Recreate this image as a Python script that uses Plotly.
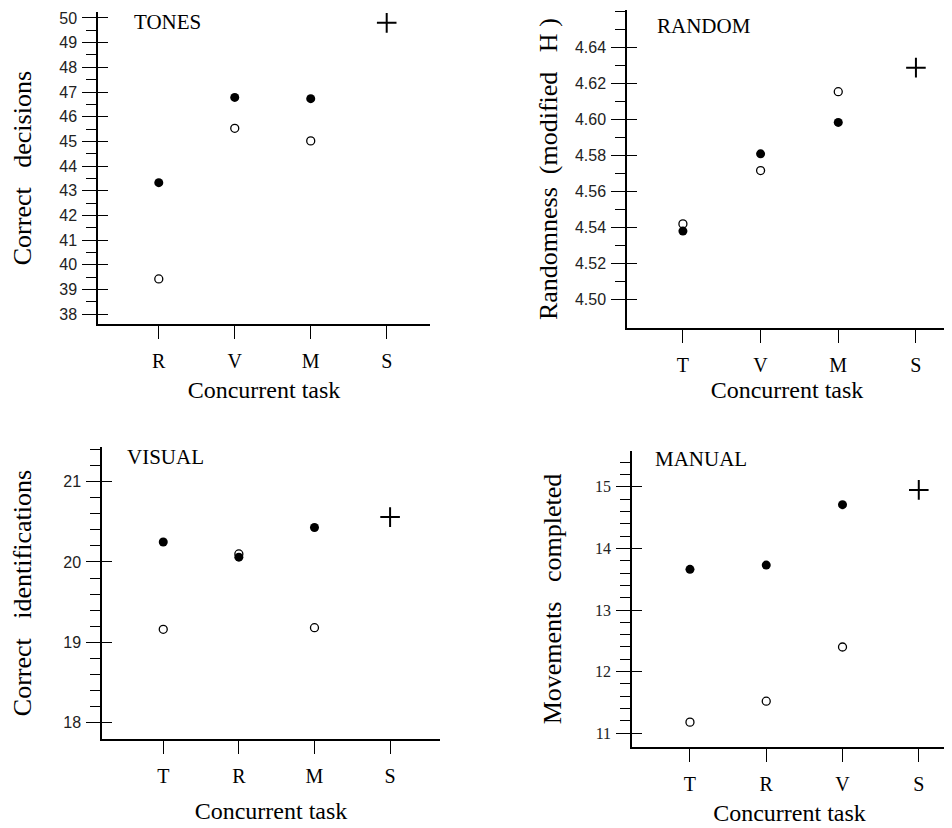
import plotly.graph_objects as go

W, H = 952, 828
OFF = 8                      # the page body adds an 8 px margin around the figure
FW, FH = W - OFF, H - OFF    # figure size so that it fills the window exactly

# ---------------- data ----------------
tones_tasks = ["R", "V", "M", "S"]
tones_filled = [43.33, 46.78, 46.73]
tones_open = [39.43, 45.53, 45.02]
tones_single = [49.8]

random_tasks = ["T", "V", "M", "S"]
random_filled = [4.538, 4.581, 4.5985]
random_open = [4.542, 4.5717, 4.6156]
random_single = [4.629]

visual_tasks = ["T", "R", "M", "S"]
visual_filled = [20.25, 20.06, 20.43]
visual_open = [19.16, 20.10, 19.18]
visual_single = [20.56]

manual_tasks = ["T", "R", "V", "S"]
manual_filled = [13.66, 13.73, 14.71]
manual_open = [11.18, 11.52, 12.40]
manual_single = [14.95]

panel_names = ["TONES", "RANDOM", "VISUAL", "MANUAL"]
y_titles = ["Correct\u00a0\u00a0\u00a0decisions",
            "Randomness\u00a0\u00a0(modified\u00a0\u00a0\u00a0H\u00a0)",
            "Correct\u00a0\u00a0\u00a0identifications",
            "Movements\u00a0\u00a0\u00a0completed"]
x_title = "Concurrent task"

tones_major = [38, 39, 40, 41, 42, 43, 44, 45, 46, 47, 48, 49, 50]
random_major = [4.50, 4.52, 4.54, 4.56, 4.58, 4.60, 4.62, 4.64]
visual_major = [18, 19, 20, 21]
manual_major = [11, 12, 13, 14, 15]


# ---------------- layout helpers (window pixels -> paper fractions) ----------------
def clamp(v):
    return min(1.0, max(0.0, v))


def xdom(a, b):
    return [clamp((a - OFF) / FW), clamp((b - OFF) / FW)]


def ydom(top, bottom):
    return [clamp(1 - (bottom - OFF) / FH), clamp(1 - (top - OFF) / FH)]


def minor_vals(start, stop, step, majors):
    out = []
    v = start
    while v <= stop + 1e-9:
        r = round(v, 4)
        if all(abs(r - m) > 1e-6 for m in majors):
            out.append(r)
        v += step
    return out


panels = [
    dict(tasks=tones_tasks, filled=tones_filled, opn=tones_open, single=tones_single,
         xd=xdom(98, 430), yd=ydom(10, 323), xr=[-0.80, 3.57], yr=[37.596, 50.24],
         major=tones_major, minor=minor_vals(38.5, 49.5, 1.0, tones_major), fmt="d",
         tfont=dict(family="Liberation Sans", size=16, color="#222"), ystand=30, xstand=10,
         name_pos=(132, 20)),
    dict(tasks=random_tasks, filled=random_filled, opn=random_open, single=random_single,
         xd=xdom(627, 947), yd=ydom(8, 327), xr=[-0.72, 3.40], yr=[4.4839, 4.6611],
         major=random_major, minor=minor_vals(4.51, 4.66, 0.01, random_major), fmt=".2f",
         tfont=dict(family="Liberation Sans", size=16, color="#222"), ystand=10, xstand=6,
         name_pos=(655, 24)),
    dict(tasks=visual_tasks, filled=visual_filled, opn=visual_open, single=visual_single,
         xd=xdom(102, 440), yd=ydom(446, 739), xr=[-0.81, 3.66], yr=[17.788, 21.436],
         major=visual_major, minor=minor_vals(18.2, 21.4, 0.2, visual_major), fmt="d",
         tfont=dict(family="Liberation Sans", size=16, color="#222"), ystand=24, xstand=16,
         name_pos=(125, 456)),
    dict(tasks=manual_tasks, filled=manual_filled, opn=manual_open, single=manual_single,
         xd=xdom(632, 947), yd=ydom(450, 747), xr=[-0.76, 3.37], yr=[10.773, 15.583],
         major=manual_major, minor=minor_vals(11.2, 15.4, 0.2, manual_major), fmt="d",
         tfont=dict(family="Liberation Serif", size=16, color="#222"), ystand=26, xstand=10,
         name_pos=(653, 458)),
]

fig = go.Figure()
layout = {}
annotations = []

for i, p in enumerate(panels):
    n = i + 1
    xa = "x" if n == 1 else f"x{n}"
    ya = "y" if n == 1 else f"y{n}"
    xo, yo = f"x{n + 4}", f"y{n + 4}"
    xkey = "xaxis" if n == 1 else f"xaxis{n}"
    ykey = "yaxis" if n == 1 else f"yaxis{n}"
    xokey, yokey = f"xaxis{n + 4}", f"yaxis{n + 4}"

    # open circles first, filled on top, cross for the single-task score
    fig.add_trace(go.Scatter(x=p["tasks"][:3], y=p["opn"], mode="markers", xaxis=xa, yaxis=ya,
                             marker=dict(symbol="circle", size=8, color="white",
                                         line=dict(color="black", width=1.3)),
                             showlegend=False, hoverinfo="x+y"))
    fig.add_trace(go.Scatter(x=p["tasks"][:3], y=p["filled"], mode="markers", xaxis=xa, yaxis=ya,
                             marker=dict(symbol="circle", size=9, color="black"),
                             showlegend=False, hoverinfo="x+y"))
    fig.add_trace(go.Scatter(x=p["tasks"][3:], y=p["single"], mode="markers", xaxis=xa, yaxis=ya,
                             marker=dict(symbol="cross-thin", size=14,
                                         line=dict(color="black", width=2)),
                             showlegend=False, hoverinfo="x+y"))
    # invisible trace on an independent twin subplot whose y axis carries the inner
    # half of the crossing major ticks
    fig.add_trace(go.Scatter(x=[0], y=p["filled"][:1], mode="markers",
                             xaxis=xo, yaxis=yo, marker=dict(size=2, opacity=0),
                             showlegend=False, hoverinfo="skip"))

    layout[xkey] = dict(
        domain=p["xd"], anchor=ya, type="category", categoryorder="array",
        categoryarray=p["tasks"], range=p["xr"], showline=True, linecolor="black",
        linewidth=1.5, ticks="outside", ticklen=13, tickwidth=1.3, tickcolor="black",
        showgrid=False, zeroline=False, ticklabelstandoff=5,
        tickfont=dict(family="Liberation Serif", size=20, color="black"),
        title=dict(text=x_title, font=dict(family="Liberation Serif", size=24, color="black"),
                   standoff=p["xstand"]),
    )
    layout[ykey] = dict(
        domain=p["yd"], anchor=xa, range=p["yr"], showline=True, linecolor="black",
        linewidth=1.5, tickmode="array", tickvals=p["major"], tickformat=p["fmt"],
        ticks="outside", ticklen=14, tickwidth=1.3, tickcolor="black",
        showgrid=False, zeroline=False, tickfont=p["tfont"], ticklabelstandoff=2,
        ticklabeloverflow="allow",
        minor=dict(tickmode="array", tickvals=p["minor"], ticks="outside", ticklen=10,
                   tickwidth=1.2, tickcolor="black", showgrid=False),
        title=dict(text=y_titles[i], font=dict(family="Liberation Serif", size=26, color="black"),
                   standoff=p["ystand"]),
    )
    layout[xokey] = dict(
        domain=p["xd"], anchor=yo, range=[-1, 1], showline=False, showgrid=False,
        zeroline=False, showticklabels=False, ticks="",
    )
    layout[yokey] = dict(
        domain=p["yd"], anchor=xo, side="left", range=p["yr"], tickmode="array",
        tickvals=p["major"], ticks="inside", ticklen=10, tickwidth=1.3, tickcolor="black",
        showticklabels=False, showline=False, showgrid=False, zeroline=False,
    )
    nx, ny = p["name_pos"]
    annotations.append(dict(text=panel_names[i], xref="paper", yref="paper",
                            x=(nx - OFF) / FW, y=1 - (ny - OFF) / FH,
                            xanchor="left", yanchor="middle", showarrow=False,
                            font=dict(family="Liberation Serif", size=21, color="black")))

fig.update_layout(width=FW, height=FH, margin=dict(l=0, r=0, t=0, b=0),
                  plot_bgcolor="rgba(0,0,0,0)", paper_bgcolor="white", showlegend=False,
                  font=dict(family="Liberation Serif", color="black"),
                  annotations=annotations, **layout)

fig.write_html("out.html")
